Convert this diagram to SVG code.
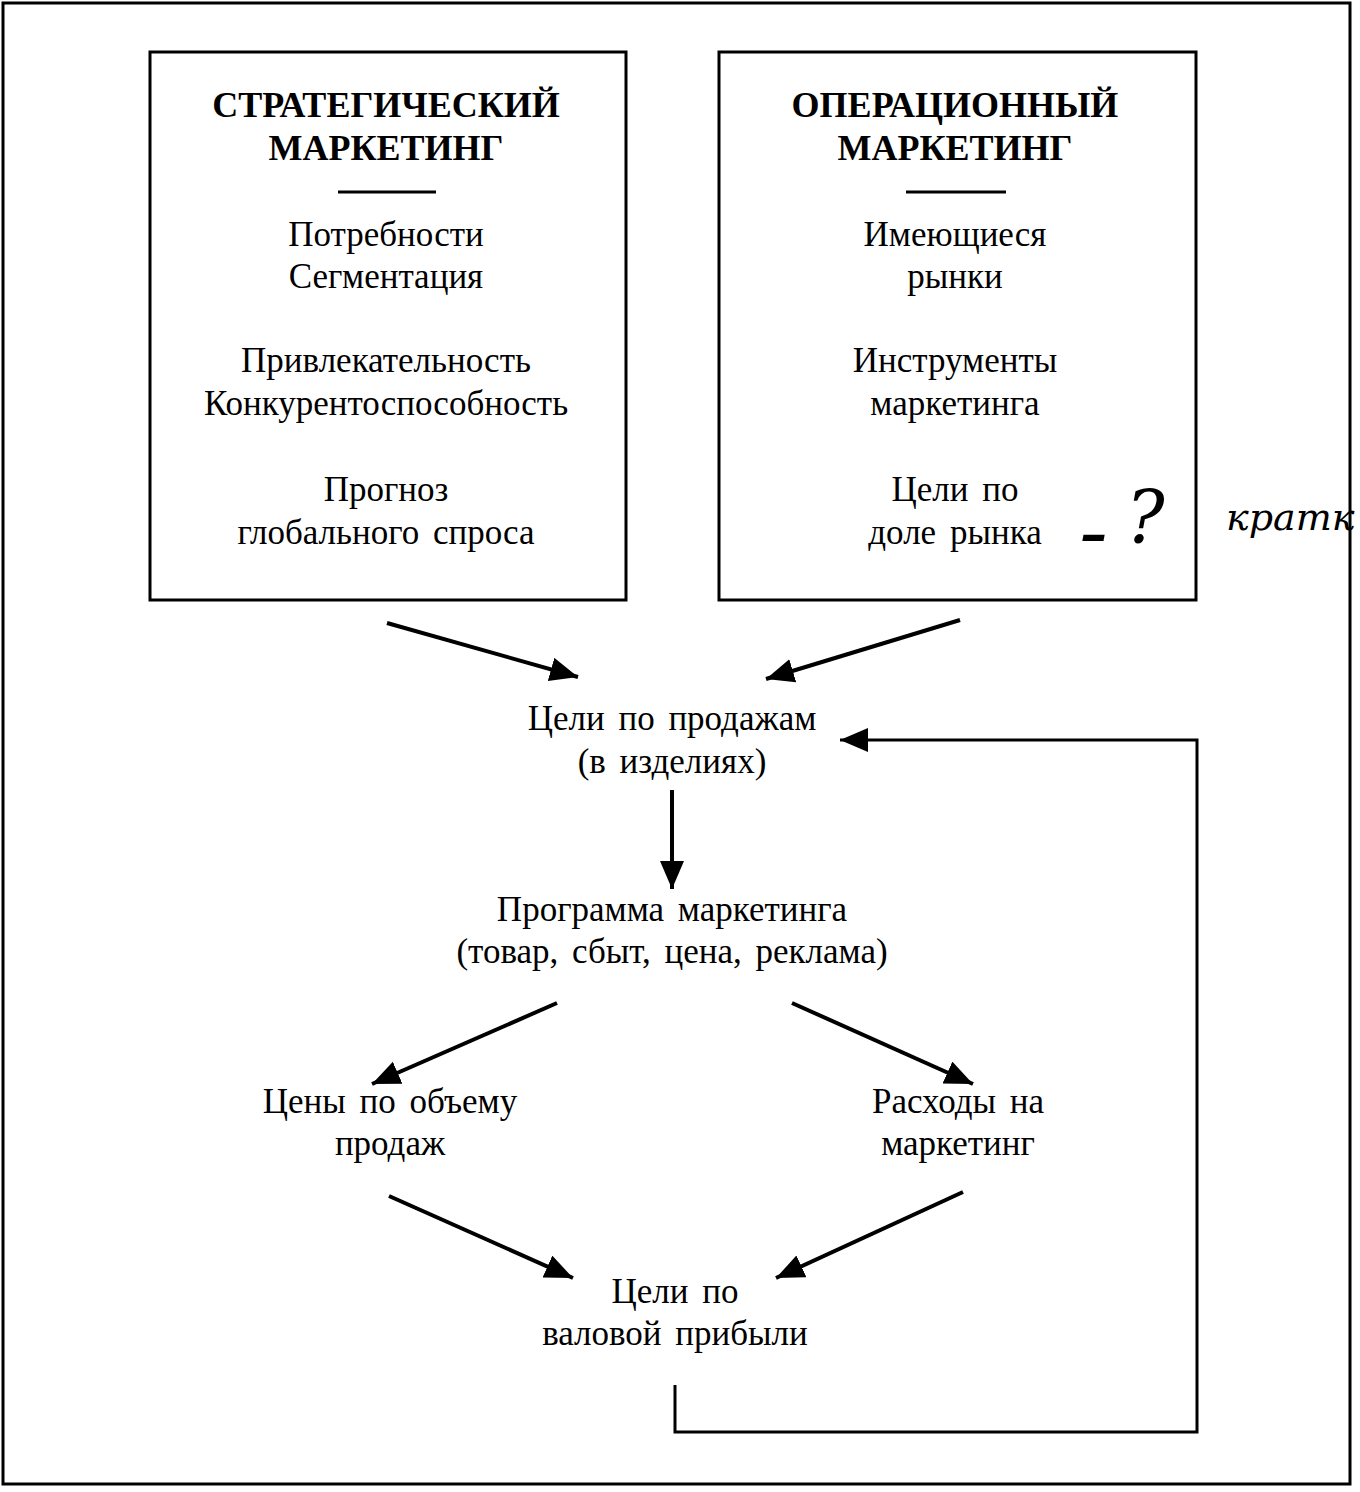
<svg xmlns="http://www.w3.org/2000/svg" width="1360" height="1492" viewBox="0 0 1360 1492">
<defs>
<style>
.box{fill:none;stroke:#000;stroke-width:3}
.t{font-family:"Liberation Serif","Times New Roman",serif;font-size:35px;word-spacing:5px;fill:#000;text-anchor:middle}
.h{font-family:"Liberation Serif","Times New Roman",serif;font-size:36px;font-weight:bold;fill:#000;text-anchor:middle}
.c{fill:none;stroke:#000;stroke-width:4}
.hw{font-family:"DejaVu Serif",serif;font-style:italic;fill:#000}
</style>
<marker id="ah" markerUnits="userSpaceOnUse" markerWidth="30" markerHeight="26" refX="28" refY="12" orient="auto">
<path d="M0,0 L28,12 L0,24 Z" fill="#000"/>
</marker>
</defs>
<rect width="1360" height="1492" fill="#fff"/>
<rect x="3" y="3" width="1347" height="1481" class="box"/>

<g id="strategic">
<rect x="150" y="52" width="476" height="548" class="box"/>
<text class="h" x="386" y="117">СТРАТЕГИЧЕСКИЙ</text>
<text class="h" x="386" y="160">МАРКЕТИНГ</text>
<line x1="338" y1="192" x2="436" y2="192" stroke="#000" stroke-width="3"/>
<text class="t" x="386" y="246">Потребности</text>
<text class="t" x="386" y="288">Сегментация</text>
<text class="t" x="386" y="372">Привлекательность</text>
<text class="t" x="386" y="415">Конкурентоспособность</text>
<text class="t" x="386" y="501">Прогноз</text>
<text class="t" x="386" y="544">глобального спроса</text>
</g>

<g id="operational">
<rect x="719" y="52" width="477" height="548" class="box"/>
<text class="h" x="955" y="117">ОПЕРАЦИОННЫЙ</text>
<text class="h" x="955" y="160">МАРКЕТИНГ</text>
<line x1="906" y1="192" x2="1006" y2="192" stroke="#000" stroke-width="3"/>
<text class="t" x="955" y="246">Имеющиеся</text>
<text class="t" x="955" y="288">рынки</text>
<text class="t" x="955" y="372">Инструменты</text>
<text class="t" x="955" y="415">маркетинга</text>
<text class="t" x="955" y="501">Цели по</text>
<text class="t" x="955" y="544">доле рынка</text>
</g>

<g id="annotation">
<text class="hw" x="1080" y="552" font-size="54" font-weight="bold">–</text>
<text class="hw" x="1126" y="543" font-size="72">?</text>
<text class="hw" x="1226" y="530" font-size="38">кратк</text>
</g>

<g id="sales-goals">
<text class="t" x="672" y="730">Цели по продажам</text>
<text class="t" x="672" y="773">(в изделиях)</text>
</g>

<g id="program">
<text class="t" x="672" y="921">Программа маркетинга</text>
<text class="t" x="672" y="963">(товар, сбыт, цена, реклама)</text>
</g>

<g id="prices">
<text class="t" x="390" y="1113">Цены по объему</text>
<text class="t" x="390" y="1155">продаж</text>
</g>

<g id="costs">
<text class="t" x="958" y="1113">Расходы на</text>
<text class="t" x="958" y="1155">маркетинг</text>
</g>

<g id="profit">
<text class="t" x="675" y="1303">Цели по</text>
<text class="t" x="675" y="1345">валовой прибыли</text>
</g>

<g id="connectors">
<line class="c" x1="387" y1="623" x2="578" y2="677" marker-end="url(#ah)"/>
<line class="c" x1="960" y1="620" x2="766" y2="679" marker-end="url(#ah)"/>
<line class="c" x1="672" y1="790" x2="672" y2="889" marker-end="url(#ah)"/>
<line class="c" x1="557" y1="1003" x2="372" y2="1084" marker-end="url(#ah)"/>
<line class="c" x1="792" y1="1003" x2="973" y2="1084" marker-end="url(#ah)"/>
<line class="c" x1="389" y1="1196" x2="573" y2="1278" marker-end="url(#ah)"/>
<line class="c" x1="963" y1="1192" x2="776" y2="1278" marker-end="url(#ah)"/>
<polyline fill="none" stroke="#000" stroke-width="3" points="675,1385 675,1432 1197,1432 1197,740 840,740" marker-end="url(#ah)"/>
</g>
</svg>
